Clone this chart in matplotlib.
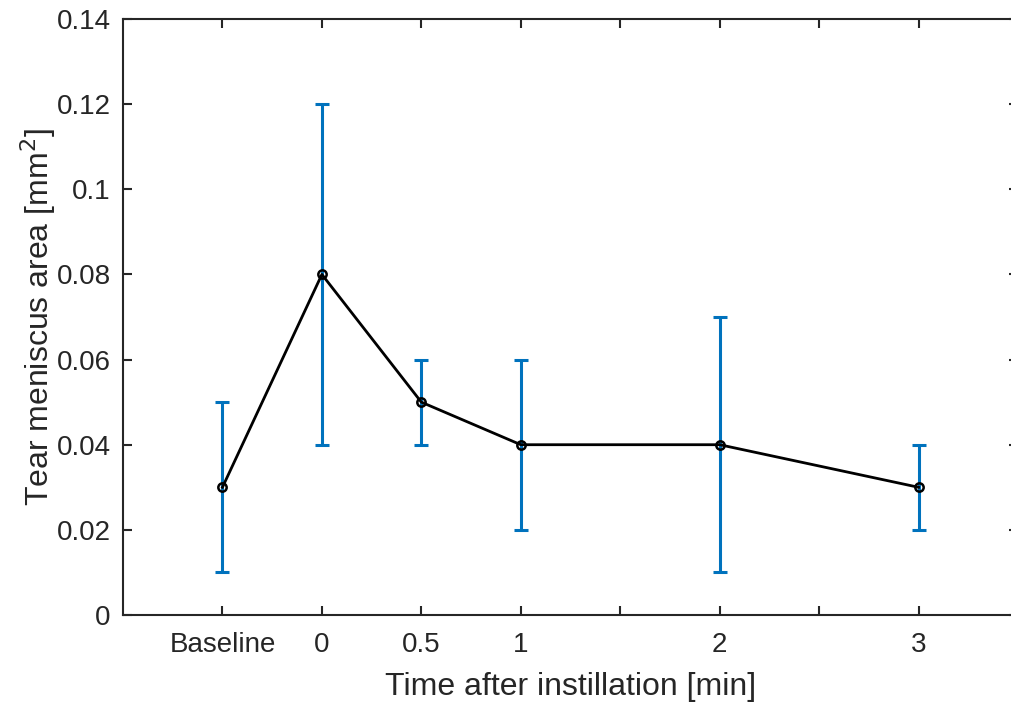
import matplotlib
matplotlib.use("Agg")
import matplotlib.pyplot as plt

# Measurement times (x positions on the axis) and their labels
x_pos = [-0.5, 0, 0.5, 1, 2, 3]
tick_pos = [-0.5, 0, 0.5, 1, 1.5, 2, 2.5, 3]
tick_labels = ["Baseline", "0", "0.5", "1", "", "2", "", "3"]

# Mean tear meniscus area and the error bar bounds
mean_area = [0.03, 0.08, 0.05, 0.04, 0.04, 0.03]
lower = [0.01, 0.04, 0.04, 0.02, 0.01, 0.02]
upper = [0.05, 0.12, 0.06, 0.06, 0.07, 0.04]

err_lo = [m - l for m, l in zip(mean_area, lower)]
err_hi = [u - m for m, u in zip(mean_area, upper)]

plt.rcParams['font.family'] = ['Liberation Sans', 'DejaVu Sans']
text_col = '#262626'

fig = plt.figure(figsize=(10.11, 7.02), dpi=100)
ax = fig.add_axes([123 / 1011, 1 - 615 / 702, (1018 - 123) / 1011, (615 - 19) / 702])

ax.errorbar(x_pos, mean_area, yerr=[err_lo, err_hi], fmt='none',
            ecolor='#0072BD', elinewidth=2.2, capsize=5, capthick=2.2, zorder=2)
ax.plot(x_pos, mean_area, color='black', linewidth=2, marker='o', markersize=6,
        markerfacecolor='none', markeredgewidth=1.8, zorder=3)

ax.set_xlim(-1, 3.5)
ax.set_ylim(0, 0.14)
ax.set_xticks(tick_pos)
ax.set_xticklabels(tick_labels)
ax.set_yticks([0, 0.02, 0.04, 0.06, 0.08, 0.1, 0.12, 0.14])
ax.set_yticklabels(["0", "0.02", "0.04", "0.06", "0.08", "0.1", "0.12", "0.14"])

ax.tick_params(direction='in', top=True, right=True, length=6.5, width=1.5,
               labelsize=20, colors=text_col)
ax.tick_params(axis='x', pad=12)
ax.tick_params(axis='y', pad=9)
for s in ax.spines.values():
    s.set_linewidth(1.5)
    s.set_color(text_col)

ax.set_xlabel("Time after instillation [min]", fontsize=23, color=text_col, labelpad=10.5)
ax.set_ylabel("Tear meniscus area [mm$^2$]", fontsize=23, color=text_col, labelpad=-1)

fig.savefig("out.png", dpi=100)
